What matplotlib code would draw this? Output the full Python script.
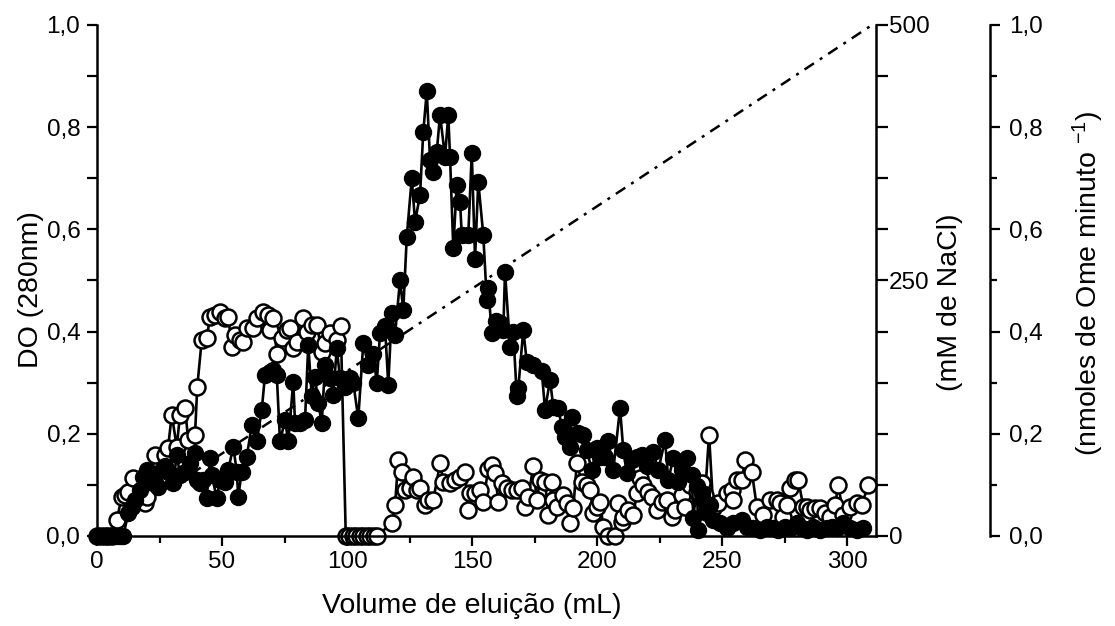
import matplotlib
matplotlib.use("Agg")
import matplotlib.pyplot as plt
from matplotlib.ticker import MultipleLocator, FixedLocator, FuncFormatter

plt.rcParams["font.family"] = ["Liberation Sans", "DejaVu Sans"]
plt.rcParams["mathtext.fontset"] = "custom"
plt.rcParams["mathtext.rm"] = "Liberation Sans"
plt.rcParams["mathtext.it"] = "Liberation Sans:italic"

# --- DO 280 nm (filled circles) ---
vol_do = [0, 1.5, 3, 4.5, 6, 7.5, 9, 10.5,
          12.5, 13.9, 15.2, 17.2, 18.5, 19.9, 20.5, 21.9, 23.2, 24.5,
          25.9, 27.2, 28.5, 30.5, 31.9, 33.2, 35.2, 37.2, 39.2, 39.9,
          41.2, 42.5, 43.9, 45.2, 45.9, 47.9, 49.2, 51.2, 52.5, 54.5,
          55.9, 56.5, 57.9, 59.9, 61.9, 63.9, 65.9, 67.2, 69.0, 70.5,
          71.9, 73.2, 75.2, 76.5, 78.5, 79.2, 81.2, 83.2, 84.5, 85.9,
          87.2, 88.5, 89.9, 91.2, 93.2, 94.5, 95.9, 97.2, 99.2, 101.2,
          102.5, 104.5, 106.5, 108.5, 110.5, 111.9, 113.2, 115.2, 116.5, 117.9,
          119.2, 121.2, 122.5, 123.9, 125.9, 127.2, 129.2, 130.5, 131.9, 133.2,
          134.5, 135.9, 137.2, 139.2, 140.5, 141.2, 142.5, 143.9, 145.2, 145.9,
          148.5, 149.9, 151.2, 152.5, 154.5, 155.9, 156.5, 157.9, 159.5, 161.2,
          162.5, 163.2, 165.2, 166.5, 167.9, 168.5, 170.5, 171.9, 174.5, 177.9,
          179.2, 181.2, 182.5, 184.5, 185.9, 187.2, 189.2, 189.9, 192.5, 194.5,
          195.9, 197.9, 199.9, 201.2, 203.2, 204.5, 206.5, 209.2, 210.5, 211.9,
          213.9, 215.9, 217.9, 219.9, 222.5, 224.5, 227.2, 228.5, 230.5, 232.5,
          233.9, 235.9, 237.9, 238.5, 239.9, 240.5, 241.9, 242.5, 243.9, 245.2,
          246.5, 249.2, 251.9, 254.5, 257.9, 259.9, 262.5, 265.2, 267.9, 270.5,
          272.5, 275.2, 277.2, 279.9, 281.9, 283.9, 286.5, 289.2, 291.9, 293.9,
          295.9, 298.5, 301.2, 303.9, 306.5]
do280 = [0, 0, 0, 0, 0, 0, 0, 0,
         0.044, 0.057, 0.070, 0.090, 0.116, 0.129, 0.126, 0.116, 0.103, 0.096,
         0.129, 0.136, 0.126, 0.103, 0.159, 0.119, 0.126, 0.142, 0.162, 0.110,
         0.103, 0.110, 0.074, 0.152, 0.119, 0.074, 0.110, 0.106, 0.129, 0.175,
         0.126, 0.077, 0.126, 0.155, 0.217, 0.185, 0.247, 0.315, 0.320, 0.325,
         0.315, 0.185, 0.227, 0.185, 0.302, 0.221, 0.221, 0.227, 0.374, 0.273,
         0.312, 0.260, 0.221, 0.335, 0.309, 0.276, 0.367, 0.309, 0.292, 0.309,
         0.300, 0.230, 0.377, 0.335, 0.357, 0.299, 0.397, 0.410, 0.296, 0.436,
         0.393, 0.501, 0.442, 0.586, 0.700, 0.615, 0.667, 0.791, 0.870, 0.736,
         0.713, 0.752, 0.824, 0.742, 0.824, 0.742, 0.563, 0.687, 0.654, 0.589,
         0.589, 0.749, 0.543, 0.693, 0.589, 0.462, 0.485, 0.397, 0.420, 0.416,
         0.403, 0.517, 0.370, 0.400, 0.273, 0.289, 0.403, 0.341, 0.335, 0.322,
         0.247, 0.305, 0.253, 0.250, 0.214, 0.194, 0.175, 0.233, 0.201, 0.198,
         0.168, 0.129, 0.172, 0.155, 0.155, 0.185, 0.129, 0.250, 0.168, 0.123,
         0.149, 0.155, 0.159, 0.136, 0.165, 0.129, 0.188, 0.110, 0.152, 0.106,
         0.129, 0.152, 0.119, 0.035, 0.097, 0.012, 0.084, 0.070, 0.044, 0.060,
         0.031, 0.025, 0.015, 0.025, 0.031, 0.018, 0.015, 0.012, 0.018, 0.015,
         0.012, 0.018, 0.015, 0.025, 0.015, 0.012, 0.018, 0.012, 0.015, 0.018,
         0.015, 0.025, 0.015, 0.012, 0.015]

# --- activity (open circles, nmoles de Ome / minuto) ---
vol_act = [0, 1.5, 3, 4.5, 6, 7.9, 9.9, 11.2, 12.4, 14.5,
           19.2, 19.9, 23.2, 27.2, 28.4, 29.9, 31.9, 33.2, 35.2, 36.5,
           39.2, 40.1, 41.9, 43.9, 45.2, 47.2, 49.2, 51.2, 52.5, 53.9,
           55.2, 57.2, 58.5, 59.9, 62.5, 63.9, 66.5, 68.5, 69.2, 70.5,
           71.9, 73.9, 75.9, 77.2, 78.5, 79.9, 82.5, 83.9, 85.9, 87.9,
           89.9, 91.2, 93.2, 95.9, 97.5, 99.5, 100.9, 102.3, 103.7, 105.1,
           106.5, 107.9, 109.3, 110.7, 112.1, 117.8, 119.2, 120.5, 121.9, 123.2,
           125.2, 126.5, 127.9, 129.2, 131.2, 132.5, 134.5, 137.2, 138.5, 141.2,
           143.2, 145.2, 147.2, 148.5, 149.2, 151.2, 153.2, 154.5, 156.5, 157.9,
           159.2, 160.5, 161.9, 163.9, 165.9, 167.9, 169.9, 171.2, 172.5, 174.5,
           175.9, 177.2, 179.2, 180.5, 181.9, 182.5, 183.9, 186.5, 187.9, 189.2,
           190.5, 191.9, 193.9, 195.9, 197.2, 198.5, 199.9, 201.2, 202.5, 204.5,
           207.2, 208.5, 209.9, 210.5, 212.5, 214.5, 215.9, 217.2, 218.5, 220.5,
           221.9, 223.9, 225.9, 227.9, 229.9, 231.2, 233.9, 235.2, 237.2, 239.9,
           241.9, 243.2, 244.8, 246.5, 248.5, 251.9, 253.9, 254.5, 255.9, 257.9,
           259.2, 261.9, 263.9, 266.5, 269.2, 271.9, 273.2, 274.5, 275.9, 277.2,
           279.2, 280.5, 282.5, 283.9, 285.2, 287.2, 289.2, 291.2, 293.2, 295.2,
           296.5, 298.5, 301.2, 303.9, 305.9, 308.5]
activity = [0, 0, 0, 0, 0, 0.031, 0.077, 0.080, 0.086, 0.113,
            0.065, 0.077, 0.158, 0.158, 0.172, 0.237, 0.175, 0.237, 0.250, 0.188,
            0.198, 0.292, 0.384, 0.387, 0.429, 0.432, 0.439, 0.426, 0.429, 0.370,
            0.393, 0.384, 0.380, 0.407, 0.407, 0.426, 0.439, 0.432, 0.403, 0.426,
            0.357, 0.387, 0.403, 0.407, 0.367, 0.380, 0.426, 0.400, 0.413, 0.413,
            0.361, 0.377, 0.397, 0.384, 0.410, 0, 0, 0, 0, 0,
            0, 0, 0, 0, 0, 0.025, 0.060, 0.149, 0.126, 0.090,
            0.093, 0.116, 0.090, 0.093, 0.061, 0.070, 0.070, 0.142, 0.106, 0.103,
            0.110, 0.116, 0.126, 0.051, 0.084, 0.084, 0.090, 0.067, 0.132, 0.139,
            0.123, 0.067, 0.103, 0.093, 0.090, 0.090, 0.093, 0.057, 0.077, 0.136,
            0.070, 0.110, 0.106, 0.041, 0.106, 0.070, 0.057, 0.080, 0.064, 0.025,
            0.054, 0.142, 0.106, 0.100, 0.090, 0.044, 0.057, 0.067, 0.018, 0.0,
            0.0, 0.064, 0.028, 0.038, 0.051, 0.041, 0.084, 0.113, 0.100, 0.087,
            0.077, 0.051, 0.067, 0.070, 0.038, 0.051, 0.080, 0.057, 0.100, 0.087,
            0.103, 0.080, 0.198, 0.054, 0.064, 0.084, 0.090, 0.070, 0.110, 0.110,
            0.149, 0.126, 0.057, 0.041, 0.070, 0.070, 0.064, 0.038, 0.061, 0.093,
            0.110, 0.110, 0.057, 0.057, 0.051, 0.054, 0.054, 0.044, 0.038, 0.061,
            0.100, 0.041, 0.057, 0.064, 0.061, 0.100]

# --- NaCl gradient (dash-dot) ---
vol_nacl = [0, 310]
nacl_mm = [0, 500]

comma = FuncFormatter(lambda v, p: f"{v:.1f}".replace(".", ","))
integer = FuncFormatter(lambda v, p: f"{v:.0f}")
TICK_FS = 17.5
LABEL_FS = 20.5
MS = 11.5
LW = 1.9

fig = plt.figure(figsize=(11.15, 6.26), dpi=100)
ax = fig.add_axes([0.0870, 0.1438, 0.6987, 0.8163])
ax2 = ax.twinx()
ax3 = ax.twinx()

# stacking: gradient at the back, activity, then DO on top
ax2.set_zorder(1)
ax3.set_zorder(2)
ax.set_zorder(3)
ax.patch.set_visible(False)
ax3.patch.set_visible(False)

ax2.plot(vol_nacl, nacl_mm, color="black", lw=1.8,
         dashes=(4.5, 2.8, 1.2, 2.8))
ax3.plot(vol_act, activity, "-o", color="black", lw=LW, ms=MS,
         mfc="white", mec="black", mew=1.8, clip_on=False)
ax.plot(vol_do, do280, "-o", color="black", lw=LW, ms=MS,
        mfc="black", mec="black", clip_on=False)

ax.set_xlim(0, 311.6)
ax.set_ylim(0, 1.0)
ax2.set_ylim(0, 500)
ax3.set_ylim(0, 1.0)

for a in (ax, ax2, ax3):
    for s in a.spines.values():
        s.set_linewidth(1.8)

ax.spines["top"].set_visible(False)
ax.spines["right"].set_visible(False)
for a in (ax2, ax3):
    a.spines["top"].set_visible(False)
    a.spines["left"].set_visible(False)
    a.spines["bottom"].set_visible(False)
ax3.spines["right"].set_position(("axes", 1.1463))

ax.xaxis.set_major_locator(MultipleLocator(50))
ax.xaxis.set_minor_locator(MultipleLocator(25))
ax.xaxis.set_major_formatter(integer)
ax.yaxis.set_major_locator(MultipleLocator(0.2))
ax.yaxis.set_minor_locator(MultipleLocator(0.1))
ax.yaxis.set_major_formatter(comma)
ax.tick_params(which="both", direction="out", width=1.6, labelsize=TICK_FS)
ax.tick_params(axis="y", which="both", length=7, pad=5)
ax.tick_params(axis="x", which="major", length=7, pad=4)
ax.tick_params(axis="x", which="minor", length=5)

ax2.yaxis.set_major_locator(FixedLocator([0, 250, 500]))
ax2.yaxis.set_minor_locator(MultipleLocator(50))
ax2.yaxis.set_major_formatter(integer)
ax2.tick_params(which="both", direction="out", length=8.5, width=1.6,
                pad=1, labelsize=TICK_FS)

ax3.yaxis.set_major_locator(MultipleLocator(0.2))
ax3.yaxis.set_minor_locator(MultipleLocator(0.1))
ax3.yaxis.set_major_formatter(comma)
ax3.tick_params(which="both", direction="out", width=1.6, labelsize=TICK_FS)
ax3.tick_params(which="major", length=7.5, pad=6)
ax3.tick_params(which="minor", length=5)

fig.text(0.4233, 0.032, "Volume de eluição (mL)", fontsize=LABEL_FS,
         ha="center", va="center")
fig.text(0.0278, 0.5367, "DO (280nm)", fontsize=LABEL_FS, rotation=90,
         ha="center", va="center")
fig.text(0.852, 0.5176, "(mM de NaCl)", fontsize=LABEL_FS, rotation=90,
         ha="center", va="center")
fig.text(0.9758, 0.548, "(nmoles de Ome minuto $^{-1}$)", fontsize=LABEL_FS,
         rotation=90, ha="center", va="center")

fig.savefig("out.png", dpi=100)
